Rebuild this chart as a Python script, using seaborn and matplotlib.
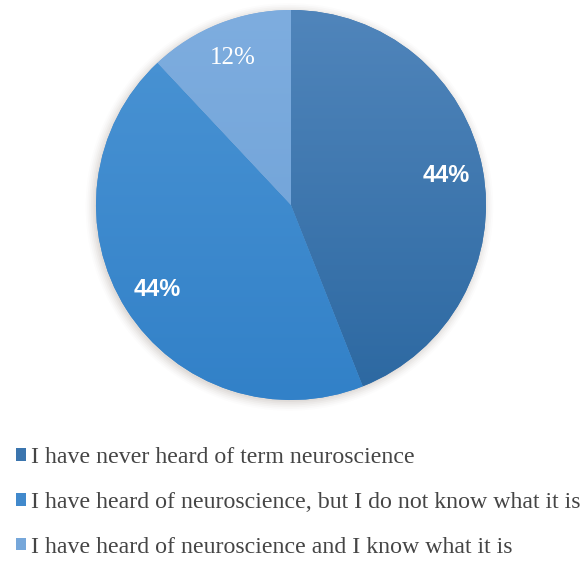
import numpy as np
import matplotlib
matplotlib.use("Agg")
import matplotlib.pyplot as plt
from matplotlib.colors import LinearSegmentedColormap
from matplotlib.patches import Circle
import seaborn as sns

# Survey answers and their shares (%)
categories = [
    "I have never heard of term neuroscience",
    "I have heard of neuroscience, but I do not know what it is",
    "I have heard of neuroscience and I know what it is",
]
shares = [44, 44, 12]

# Slice colours: base tone plus top/bottom shades for the gradient fill
base_colors = ["#3b75ae", "#4189cc", "#76a7da"]
top_colors = ["#5085bb", "#4b94d4", "#7eaddf"]
bottom_colors = ["#2c68a1", "#3281c8", "#6b9fd5"]

sns.set_theme(style="white")
palette = sns.color_palette(base_colors)

W, H = 584, 561
fig = plt.figure(figsize=(W / 100, H / 100), dpi=100)
fig.patch.set_facecolor("white")

# Pie axes: centre (291, 205) px, radius 195 px
cx, cy, r = 291, 205, 195
ax = fig.add_axes([(cx - r) / W, 1 - (cy + r) / H, 2 * r / W, 2 * r / H])
ax.set_axis_off()

# soft halo behind the pie
for k, a in zip(np.linspace(1.045, 1.0, 6), [0.02, 0.03, 0.04, 0.05, 0.06, 0.07]):
    ax.add_patch(Circle((-0.008, -0.01), k, color="#8a7a70", alpha=a, lw=0,
                        zorder=0, clip_on=False))

wedges, texts, autotexts = ax.pie(
    shares,
    colors=palette,
    startangle=90,
    counterclock=False,
    radius=1.0,
    autopct="%d%%",
    pctdistance=0.81,
    wedgeprops=dict(linewidth=0, zorder=1),
    textprops=dict(color="white"),
)

# vertical gradient inside each slice
grad = np.linspace(0, 1, 256).reshape(-1, 1)
for w, ct, cb in zip(wedges, top_colors, bottom_colors):
    cmap = LinearSegmentedColormap.from_list("g", [ct, cb])
    im = ax.imshow(grad, extent=[-1, 1, -1, 1], origin="upper", cmap=cmap,
                   aspect="auto", zorder=2, interpolation="bilinear")
    im.set_clip_path(w)

for t in autotexts:
    t.set_zorder(5)
for t in autotexts[:2]:
    t.set_fontfamily("Liberation Sans")
    t.set_fontweight("bold")
    t.set_fontsize(17)
autotexts[2].set_fontfamily("Liberation Serif")
autotexts[2].set_fontsize(18)

ax.set_xlim(-1.0, 1.0)
ax.set_ylim(-1.0, 1.0)

# legend below the pie
leg = fig.legend(
    wedges, categories,
    loc="upper left",
    bbox_to_anchor=(16 / W, 1 - 447 / H),
    frameon=False,
    borderpad=0, borderaxespad=0,
    handlelength=0.42, handleheight=0.42,
    handletextpad=0.22,
    labelspacing=1.0,
    prop=dict(family="Liberation Serif", size=17.2),
    labelcolor="#454545",
)

fig.savefig("out.png", dpi=100, facecolor="white")
